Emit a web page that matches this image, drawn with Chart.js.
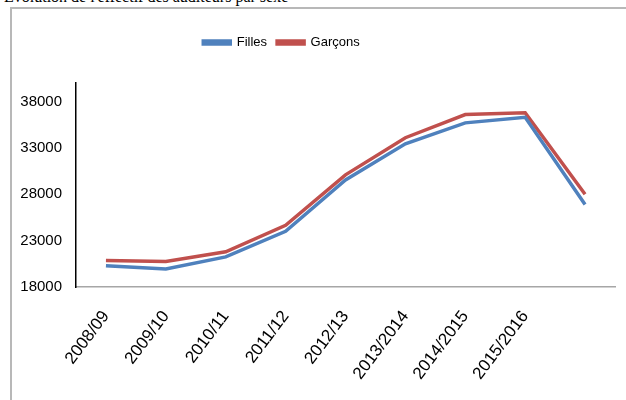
<!DOCTYPE html>
<html>
<head>
<meta charset="utf-8">
<script src="https://cdn.jsdelivr.net/npm/chart.js@4.4.0/dist/chart.umd.min.js"></script>
<style>
  html, body { margin: 0; padding: 0; background: #fff; }
  body { width: 626px; height: 400px; position: relative; overflow: hidden; }
  #caption {
    position: absolute; left: 4px; top: -11px;
    font-family: "Liberation Serif", serif; font-size: 16px; line-height: 16px;
    color: #000; white-space: nowrap;
  }
  #frame {
    position: absolute; left: 10px; top: 7px; width: 640px; height: 420px;
    border-left: 2px solid #b8b8b8; border-top: 2px solid #b8b8b8;
  }
  #wrap { position: absolute; left: 0; top: 0; width: 626px; height: 400px; }
</style>
</head>
<body>
<div id="caption">Evolution de l'effectif des auditeurs par sexe</div>
<div id="frame"></div>
<div id="wrap"><canvas id="chart"></canvas></div>
<script>
// years (last point has no label in the source)
const years = ["2008/09", "2009/10", "2010/11", "2011/12", "2012/13", "2013/2014", "2014/2015", "2015/2016", ""];
const filles = [20300, 19950, 21250, 24000, 29550, 33450, 35700, 36300, 26900];
const garcons = [20850, 20750, 21800, 24650, 30100, 34100, 36600, 36800, 28000];
const yTicks = [18000, 23000, 28000, 33000, 38000];

const axisFont = '"Liberation Sans", Arial, Helvetica';

// move the legend where the original sits (left of centre, higher up)
const legendShift = {
    id: 'legendShift',
    afterLayout(chart) {
        const lg = chart.legend;
        lg.left -= 26; lg.right -= 26;
        lg.top -= 24; lg.bottom -= 24;
    }
};

new Chart(document.getElementById("chart").getContext("2d"), {
    type: 'line',
    data: {
        labels: years,
        datasets: [
            { label: 'Filles', data: filles, borderColor: '#4F81BD', backgroundColor: '#4F81BD' },
            { label: 'Garçons', data: garcons, borderColor: '#C0504D', backgroundColor: '#C0504D' }
        ]
    },
    options: {
        responsive: true,
        maintainAspectRatio: false,
        animation: false,
        layout: { padding: { top: 50, right: 11, left: 0, bottom: 0 } },
        elements: { line: { tension: 0, borderWidth: 3.5 }, point: { radius: 0 } },
        plugins: {
            legend: {
                position: 'top',
                labels: {
                    boxWidth: 27, boxHeight: 3, padding: 10, color: '#000',
                    font: { family: axisFont, size: 13 }
                }
            },
            tooltip: { enabled: false }
        },
        scales: {
            x: {
                offset: true,
                grid: { display: false, drawTicks: false },
                border: { color: '#a6a6a6', width: 1.5 },
                ticks: {
                    color: '#000', autoSkip: false, minRotation: 53, maxRotation: 53, padding: 20,
                    font: { family: axisFont, size: 17 }
                },
                afterFit(axis) { axis.height = 113; }
            },
            y: {
                min: 18000, max: 40000,
                grid: { display: false, drawTicks: false },
                border: { color: '#000', width: 1.5 },
                afterBuildTicks(axis) { axis.ticks = yTicks.map(v => ({ value: v })); },
                ticks: {
                    color: '#000', padding: 14,
                    font: { family: axisFont, size: 15 },
                    callback: v => String(v)
                },
                afterFit(axis) { axis.width = 76; }
            }
        }
    },
    plugins: [legendShift]
});
</script>
</body>
</html>
